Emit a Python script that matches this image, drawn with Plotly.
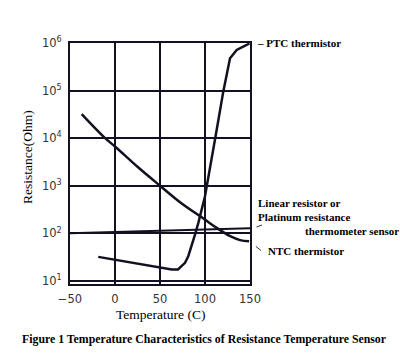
import plotly.graph_objects as go

# ---- data ----
temp_ticks = [-50, 0, 50, 100, 150]
temp_tick_labels = ["\u221250", "0", "50", "100", "150"]
res_ticks = [10, 100, 1000, 10000, 100000, 1000000]
res_tick_labels = ["10<sup>1</sup>", "10<sup>2</sup>", "10<sup>3</sup>",
                   "10<sup>4</sup>", "10<sup>5</sup>", "10<sup>6</sup>"]

ntc_temp = [-37, -11, 0, 25, 50, 73, 99, 113, 128, 139, 149]
ntc_res = [32000, 10000, 6700, 2500, 1000, 440, 200, 130, 87, 72, 68]

ptc_temp = [-18.6, 48, 63, 70, 72.2, 77.8, 81.4, 85.2, 88.9, 92.6, 96.3, 100,
            113, 120.3, 127.8, 135.2, 146.3, 149.4]
ptc_res = [32, 19, 17.4, 17.4, 19, 24, 33, 54, 94, 166, 316, 603,
           15000, 95000, 478000, 713000, 908000, 977000]

linear_temp = [-50, 150]
linear_res = [100, 128]

INK = "#111122"
SERIF = "Liberation Serif, Times New Roman, serif"
SANS = "DejaVu Sans, sans-serif"

fig = go.Figure()
fig.add_trace(go.Scatter(x=ntc_temp, y=ntc_res, mode="lines",
                         line=dict(color=INK, width=2.5, shape="spline", smoothing=1.0),
                         hoverinfo="skip"))
fig.add_trace(go.Scatter(x=ptc_temp, y=ptc_res, mode="lines",
                         line=dict(color=INK, width=2.5),
                         hoverinfo="skip"))
fig.add_trace(go.Scatter(x=linear_temp, y=linear_res, mode="lines",
                         line=dict(color=INK, width=2),
                         hoverinfo="skip"))

fig.update_layout(
    width=400, height=353,
    margin=dict(l=70, r=150, t=43, b=69, pad=0),
    paper_bgcolor="white", plot_bgcolor="white",
    showlegend=False,
    xaxis=dict(range=[-50, 150], tickvals=temp_ticks, ticktext=temp_tick_labels,
               showgrid=True, gridcolor=INK, gridwidth=2, zeroline=False,
               showline=True, mirror=True, linecolor=INK, linewidth=2,
               ticks="", ticklabelstandoff=3,
               tickfont=dict(family=SANS, size=11.5, color="#333333")),
    yaxis=dict(type="log", range=[0.935, 6], tickvals=res_ticks, ticktext=res_tick_labels,
               showgrid=True, gridcolor=INK, gridwidth=2, zeroline=False,
               showline=True, mirror=True, linecolor=INK, linewidth=2,
               ticks="", ticklabelstandoff=4,
               tickfont=dict(family=SANS, size=11.5, color="#333333")),
)

def note(text, x, y, size=11, anchor="left", bold=True, angle=0):
    fig.add_annotation(text=("<b>%s</b>" % text) if bold else text,
                       x=x, y=y, xref="paper", yref="paper",
                       xanchor=anchor, yanchor="middle", showarrow=False,
                       textangle=angle,
                       font=dict(family=SERIF, size=size, color="black"))

note("\u2013 PTC thermistor", 1.028, 1.0)
note("Linear resistor or", 1.036, 0.336)
note("Platinum resistance", 1.036, 0.280)
note("thermometer sensor", 1.294, 0.220)
note("NTC thermistor", 1.089, 0.137)
note("Temperature (C)", 0.5, -0.1286, size=13.5, anchor="center", bold=False)
note("Resistance(Ohm)", -0.236, 0.525, size=13.5, anchor="center", angle=-90, bold=False)
note("Figure 1 Temperature Characteristics of Resistance Temperature Sensor",
     0.744, -0.228, size=11.8, anchor="center")

fig.add_shape(type="line", xref="paper", yref="paper", x0=1.036, y0=0.2365, x1=1.067, y1=0.2448,
              line=dict(color="#333333", width=1))
fig.add_shape(type="line", xref="paper", yref="paper", x0=1.033, y0=0.1556, x1=1.061, y1=0.139,
              line=dict(color="#333333", width=1))

fig.write_html("out.html")
